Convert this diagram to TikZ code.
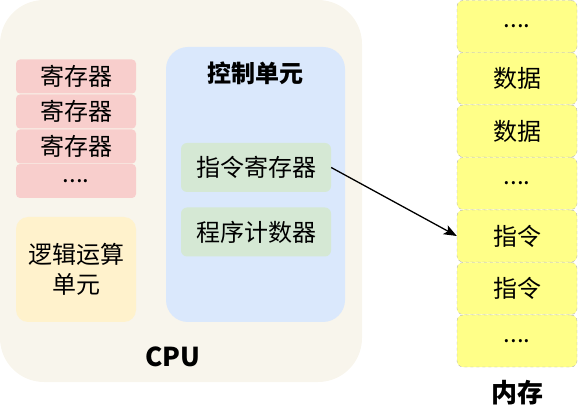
\documentclass[tikz,border=0pt]{standalone}
\usepackage{fontspec}
\usetikzlibrary{arrows.meta}
\setmainfont{Noto Sans CJK SC}
\definecolor{cpubg}{HTML}{F8F5EC}
\definecolor{regc}{HTML}{F8CECC}
\definecolor{aluc}{HTML}{FFF2CC}
\definecolor{cuc}{HTML}{DAE8FC}
\definecolor{irc}{HTML}{D5E8D4}
\definecolor{memc}{HTML}{FFFF88}
\definecolor{memb}{HTML}{B3B3B3}
\newcommand\dotz{....}
\tikzset{cpu/.style = {rounded corners=44pt, fill=cpubg, minimum width=362pt, minimum height=382pt, inner sep=0pt},
    reg/.style = {rounded corners=4pt, fill=regc, minimum width=120pt, minimum height=34pt, inner sep=0pt, font=\fontsize{24}{28}\selectfont},
    alu/.style = {rounded corners=12pt, fill=aluc, minimum width=120pt, minimum height=105pt, inner sep=0pt, align=center, font=\fontsize{24}{30}\selectfont},
    cu/.style  = {rounded corners=22pt, fill=cuc, minimum width=179pt, minimum height=275pt, inner sep=0pt},
    ir/.style  = {rounded corners=6pt, fill=irc, minimum width=150pt, minimum height=49pt, inner sep=0pt, font=\fontsize{24}{28}\selectfont},
    mem/.style = {rounded corners=6pt, fill=memc, draw=memb, dashed, minimum width=120pt, minimum height=52pt, inner sep=0pt, font=\fontsize{24}{28}\selectfont},
    t/.style   = {inner sep=0pt, font=\fontsize{24}{28}\selectfont\bfseries},
    tb/.style  = {inner sep=0pt, font=\fontsize{26}{30}\selectfont\bfseries}}

\begin{document}
\begin{tikzpicture}[x=1pt, y=-1pt, >={Stealth[length=13pt, width=10pt, inset=3pt]}]
    \useasboundingbox (0,0) rectangle (578,419);
    % CPU
    \node[cpu] (cpu) at (181,191) {};
    \node[tb] (cpul) at (173,357) {CPU};
    \foreach \n/\y/\s in {r1/76.5/寄存器, r2/111.5/寄存器, r3/146.5/寄存器, r4/181/\dotz}
        \node[reg] (\n) at (76,\y) {\s};
    \node[alu] (alu) at (76,269.5) {逻辑运算\\单元};
    \node[cu] (cu) at (255.5,184.5) {};
    \node[t] (cul) at (255,73) {控制单元};
    \node[ir] (ir) at (256,167.5) {指令寄存器};
    \node[ir] (pc) at (256,232) {程序计数器};
    % memory
    \foreach \n/\y/\s in {m1/26.5/\dotz, m2/78.5/数据, m3/131/数据, m4/183.5/\dotz, m5/236/指令, m6/288.5/指令, m7/341/\dotz}
        \node[mem] (\n) at (517,\y) {\s};
    \node[tb] (meml) at (517,393) {内存};

    \draw[->, line width=1.3pt] (ir.east) -- (m5.west);
\end{tikzpicture}
\end{document}
